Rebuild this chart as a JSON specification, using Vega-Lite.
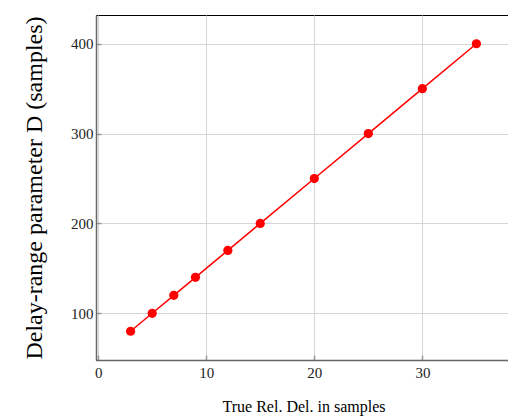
{
  "$schema": "https://vega.github.io/schema/vega-lite/v6.json",
  "autosize": "none",
  "padding": {"left": 96, "top": 15, "right": 0, "bottom": 59},
  "width": 415,
  "height": 345,
  "config": {
    "view": {"stroke": "black", "strokeWidth": 1},
    "font": "Liberation Serif",
    "axis": {
      "labelFont": "Liberation Serif",
      "labelFontSize": 15,
      "labelColor": "#222",
      "titleFont": "Liberation Serif",
      "titleFontWeight": "normal",
      "titleColor": "black",
      "gridColor": "#d6d6d6",
      "gridWidth": 1,
      "domainColor": "#666",
      "domainWidth": 1.5,
      "tickColor": "#999",
      "tickSize": -5,
      "tickWidth": 1.5
    }
  },
  "data": {
    "values": [
      {"delay": 3, "D": 80},
      {"delay": 5, "D": 100},
      {"delay": 7, "D": 120},
      {"delay": 9, "D": 140},
      {"delay": 12, "D": 170},
      {"delay": 15, "D": 200},
      {"delay": 20, "D": 250},
      {"delay": 25, "D": 300},
      {"delay": 30, "D": 350},
      {"delay": 35, "D": 400}
    ]
  },
  "encoding": {
    "x": {
      "field": "delay",
      "type": "quantitative",
      "scale": {"domain": [-0.2, 38.2], "nice": false, "zero": false},
      "axis": {"values": [0, 10, 20, 30], "title": "True Rel. Del. in samples", "titleFontSize": 16, "titlePadding": 18, "labelPadding": 10}
    },
    "y": {
      "field": "D",
      "type": "quantitative",
      "scale": {"domain": [48, 432], "nice": false, "zero": false},
      "axis": {"values": [100, 200, 300, 400], "title": "Delay-range parameter D (samples)", "titleFontSize": 24, "titlePadding": 24, "labelPadding": 8}
    }
  },
  "layer": [
    {"mark": {"type": "line", "color": "#ff0000", "strokeWidth": 1.5}},
    {"mark": {"type": "point", "filled": true, "color": "#ff0000", "opacity": 1, "size": 85}}
  ]
}
